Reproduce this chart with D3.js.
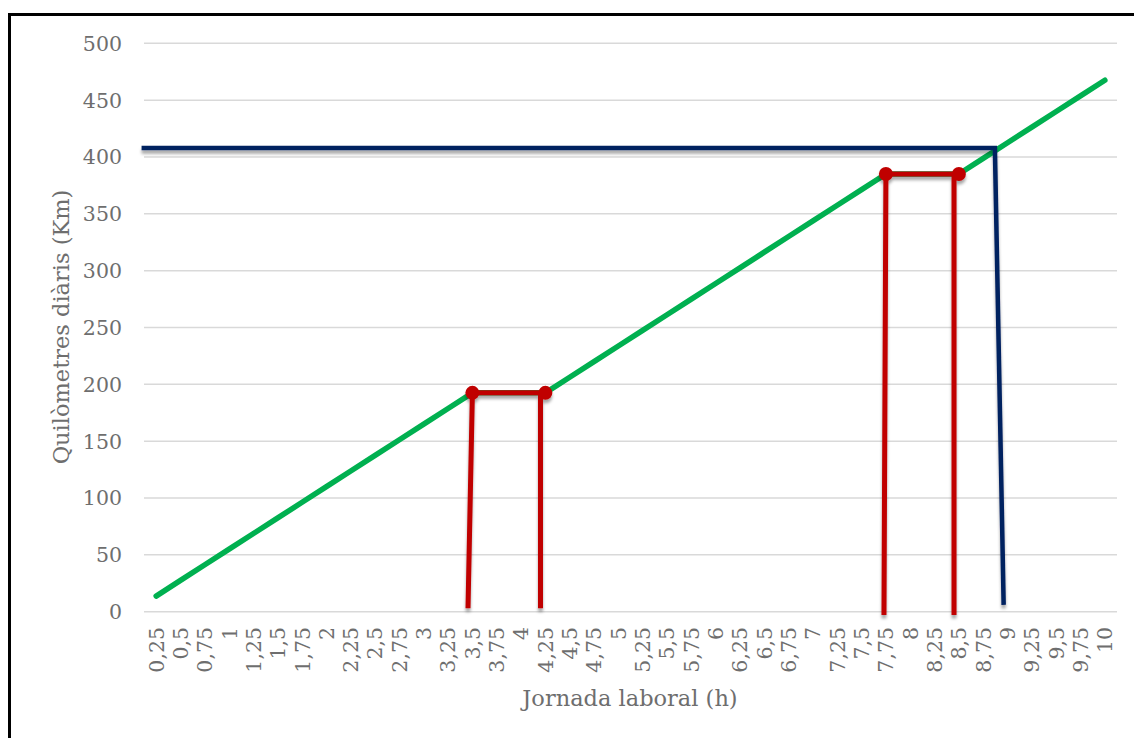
<!DOCTYPE html>
<html lang="ca">
<head>
<meta charset="UTF-8">
<title>Jornada laboral</title>
<script src="https://d3js.org/d3.v7.min.js"></script>
<style>
  body { margin: 0; background: #fff; }
  svg { display: block; }
  .tick-label { font-family: "DejaVu Serif", serif; font-size: 20.5px; fill: #6e6e6e; }
  .axis-title { font-family: "DejaVu Serif", serif; font-size: 22.5px; fill: #6e6e6e; }
</style>
</head>
<body>
<div id="chart"></div>
<script>
// hours worked (category labels, Catalan decimal comma)
const hours = [0.25, 0.5, 0.75, 1, 1.25, 1.5, 1.75, 2, 2.25, 2.5, 2.75, 3, 3.25, 3.5, 3.75, 4,
  4.25, 4.5, 4.75, 5, 5.25, 5.5, 5.75, 6, 6.25, 6.5, 6.75, 7, 7.25, 7.5, 7.75, 8,
  8.25, 8.5, 8.75, 9, 9.25, 9.5, 9.75, 10];
// daily km (green line)
const km = [13.75, 27.5, 41.25, 55, 68.75, 82.5, 96.25, 110, 123.75, 137.5, 151.25, 165, 178.75, 192.5, 192.5, 192.5,
  192.5, 206.25, 220, 233.75, 247.5, 261.25, 275, 288.75, 302.5, 316.25, 330, 343.75, 357.5, 371.25, 385, 385,
  385, 385, 398.75, 412.5, 426.25, 440, 453.75, 467.5];
const yTicks = [0, 50, 100, 150, 200, 250, 300, 350, 400, 450, 500];

// breaks (red): [hour, km] points
const break1 = [[3.455, 3], [3.5, 192.5], [4.25, 192.5]];
const break1Right = [[4.2, 192.5], [4.2, 3]];
const break2 = [[7.73, -3], [7.75, 385], [8.5, 385]];
const break2Right = [[8.45, 385], [8.45, -3]];
const breakDots = [[3.5, 192.5], [4.25, 192.5], [7.75, 385], [8.5, 385]];
// limit (blue)
const limit = [[0.1, 408], [8.87, 408], [8.96, 6]];

const width = 1134, height = 738;
const svg = d3.select("#chart").append("svg")
  .attr("width", width).attr("height", height);

const defs = svg.append("defs");
defs.append("filter").attr("id", "shadow")
  .attr("x", "-5%").attr("y", "-50%").attr("width", "110%").attr("height", "200%")
  .append("feDropShadow")
  .attr("dx", 0).attr("dy", 3.5).attr("stdDeviation", 1.5)
  .attr("flood-color", "#000").attr("flood-opacity", 0.35);

// frame (top + left only)
svg.append("path")
  .attr("d", "M9.5,738 V14.5 H1134")
  .attr("fill", "none").attr("stroke", "#000").attr("stroke-width", 3);

const x = d3.scalePoint().domain(hours).range([144, 1117]).padding(0.5);
const xh = d3.scaleLinear().domain([hours[0], hours[hours.length - 1]])
  .range([x(hours[0]), x(hours[hours.length - 1])]);
const y = d3.scaleLinear().domain([0, 500]).range([611.7, 43.3]);

const fmt = h => String(h).replace(".", ",");

// gridlines
svg.append("g").selectAll("line").data(yTicks).join("line")
  .attr("x1", 144).attr("x2", 1117)
  .attr("y1", d => y(d)).attr("y2", d => y(d))
  .attr("stroke", "#d9d9d9").attr("stroke-width", 1.5);

// y labels
svg.append("g").selectAll("text").data(yTicks).join("text")
  .attr("class", "tick-label")
  .attr("x", 122).attr("y", d => y(d)).attr("dy", "0.36em")
  .attr("text-anchor", "end")
  .text(d => d);

// x labels
svg.append("g").selectAll("text").data(hours).join("text")
  .attr("class", "tick-label")
  .attr("transform", d => `translate(${x(d)},627) rotate(-90)`)
  .attr("dy", "0.36em")
  .attr("text-anchor", "end")
  .text(fmt);

// titles
svg.append("text").attr("class", "axis-title")
  .attr("x", 630).attr("y", 706).attr("text-anchor", "middle")
  .text("Jornada laboral (h)");
svg.append("text").attr("class", "axis-title")
  .attr("transform", "translate(69,327) rotate(-90)")
  .attr("text-anchor", "middle")
  .text("Quilòmetres diàris (Km)");

// green series
const line = d3.line().x((d, i) => x(hours[i])).y(d => y(d));
svg.append("path").datum(km)
  .attr("d", line)
  .attr("fill", "none").attr("stroke", "#00b050").attr("stroke-width", 5.5)
  .attr("stroke-linecap", "round").attr("stroke-linejoin", "round");

const hl = d3.line().x(d => xh(d[0])).y(d => y(d[1]));

// red breaks
const red = svg.append("g").attr("filter", "url(#shadow)");
[break1, break1Right, break2, break2Right].forEach(pts => {
  red.append("path").datum(pts).attr("d", hl)
    .attr("fill", "none").attr("stroke", "#c00000").attr("stroke-width", 5)
    .attr("stroke-linejoin", "miter");
});
red.selectAll("circle").data(breakDots).join("circle")
  .attr("cx", d => xh(d[0])).attr("cy", d => y(d[1])).attr("r", 7)
  .attr("fill", "#c00000");

// blue limit
svg.append("path").datum(limit).attr("d", hl)
  .attr("filter", "url(#shadow)")
  .attr("fill", "none").attr("stroke", "#002060").attr("stroke-width", 4.5)
  .attr("stroke-linejoin", "miter");
</script>
</body>
</html>
